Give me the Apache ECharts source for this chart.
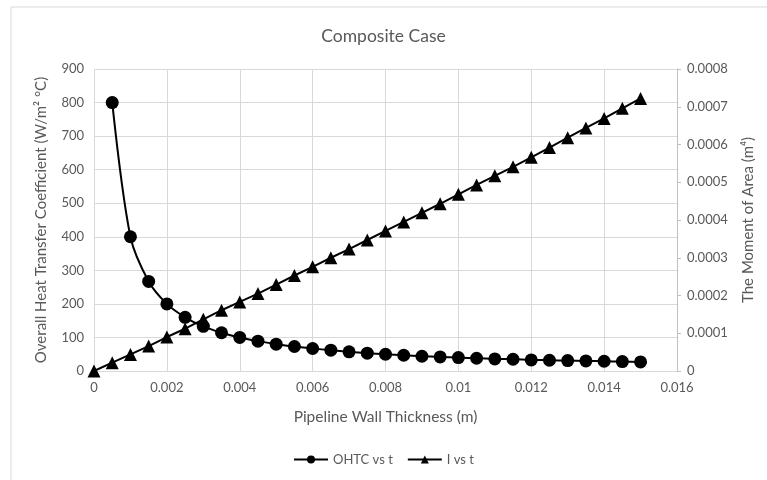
<!DOCTYPE html>
<html>
<head>
<meta charset="utf-8">
<script src="https://cdn.jsdelivr.net/npm/echarts@6/dist/echarts.min.js"></script>
<style>
  html, body { margin: 0; padding: 0; background: #fff; }
  #chart { width: 767px; height: 480px; }
</style>
</head>
<body>
<div id="chart"></div>
<script>
// Wall thickness t (m)
const thicknessOHTC = [0.0005, 0.001, 0.0015, 0.002, 0.0025, 0.003, 0.0035, 0.004, 0.0045, 0.005,
  0.0055, 0.006, 0.0065, 0.007, 0.0075, 0.008, 0.0085, 0.009, 0.0095, 0.01,
  0.0105, 0.011, 0.0115, 0.012, 0.0125, 0.013, 0.0135, 0.014, 0.0145, 0.015];
// Overall heat transfer coefficient (W/m² °C)
const ohtcValues = [800, 400, 267, 200, 160, 133, 114, 100, 89, 80,
  73, 67, 62, 57, 53, 50, 47, 44, 42, 40,
  38, 36, 35, 33, 32, 31, 30, 29, 28, 27];

const thicknessI = [0, 0.0005, 0.001, 0.0015, 0.002, 0.0025, 0.003, 0.0035, 0.004, 0.0045, 0.005,
  0.0055, 0.006, 0.0065, 0.007, 0.0075, 0.008, 0.0085, 0.009, 0.0095, 0.01,
  0.0105, 0.011, 0.0115, 0.012, 0.0125, 0.013, 0.0135, 0.014, 0.0145, 0.015];
// Moment of area (m⁴)
const momentValues = [0, 0.000022, 0.000044, 0.000066, 0.000090, 0.000112, 0.000137, 0.000161, 0.000183, 0.000205, 0.000229,
  0.000253, 0.000276, 0.000300, 0.000323, 0.000347, 0.000371, 0.000395, 0.000419, 0.000443, 0.000468,
  0.000493, 0.000517, 0.000541, 0.000566, 0.000592, 0.000618, 0.000644, 0.000669, 0.000696, 0.000722];

const seriesNames = ['OHTC vs t', 'I vs t'];

const FONT = 'Lato';
const TEXT = '#595959';
const GRID = '#d9d9d9';

const pair = (xs, ys) => xs.map((x, i) => [x, ys[i]]);

const chart = echarts.init(document.getElementById('chart'), null, { renderer: 'canvas' });
chart.setOption({
  backgroundColor: '#ffffff',
  animation: false,
  textStyle: { fontFamily: FONT },
  title: {
    text: 'Composite Case',
    left: 'center',
    top: 22,
    textStyle: { fontFamily: FONT, fontSize: 17.5, fontWeight: 'normal', color: TEXT }
  },
  graphic: [{
    type: 'rect',
    shape: { x: 11, y: 7, width: 800, height: 600 },
    style: { fill: 'none', stroke: '#d9d9d9', lineWidth: 1 },
    silent: true
  }],
  legend: {
    bottom: 9,
    left: 'center',
    itemWidth: 34,
    itemHeight: 10,
    itemGap: 14,
    textStyle: { fontFamily: FONT, fontSize: 13, color: TEXT },
    data: seriesNames
  },
  grid: { left: 94, right: 90, top: 69, bottom: 109 },
  xAxis: {
    type: 'value',
    min: 0, max: 0.016, interval: 0.002,
    name: 'Pipeline Wall Thickness (m)',
    nameLocation: 'middle',
    nameGap: 38,
    nameTextStyle: { fontFamily: FONT, fontSize: 15.5, color: TEXT },
    axisLine: { show: true, onZero: false, lineStyle: { color: GRID } },
    axisTick: { show: false },
    axisLabel: {
      fontFamily: FONT, fontSize: 13, color: TEXT, margin: 10,
      formatter: v => String(+v.toFixed(3))
    },
    splitLine: { show: true, lineStyle: { color: GRID, width: 1 } }
  },
  yAxis: [{
    type: 'value',
    min: 0, max: 900, interval: 100,
    name: 'Overall Heat Transfer Coefficient (W/m² °C)',
    nameLocation: 'middle',
    nameRotate: 90,
    nameGap: 45,
    nameTextStyle: { fontFamily: FONT, fontSize: 15, color: TEXT },
    axisLine: { show: false },
    axisTick: { show: false },
    axisLabel: { fontFamily: FONT, fontSize: 13, color: TEXT, margin: 10 },
    splitLine: { show: true, lineStyle: { color: GRID, width: 1 } }
  }, {
    type: 'value',
    position: 'right',
    min: 0, max: 0.0008, interval: 0.0001,
    name: 'The Moment of Area (m⁴)',
    nameLocation: 'middle',
    nameRotate: 90,
    nameGap: 64,
    nameTextStyle: { fontFamily: FONT, fontSize: 15, color: TEXT },
    axisLine: { show: true, lineStyle: { color: '#bfbfbf' } },
    axisTick: { show: true, inside: false, length: 4, lineStyle: { color: '#bfbfbf' } },
    axisLabel: {
      fontFamily: FONT, fontSize: 13, color: TEXT, margin: 10,
      formatter: v => v === 0 ? '0' : v.toFixed(4)
    },
    splitLine: { show: false }
  }],
  series: [{
    name: seriesNames[0],
    type: 'line',
    yAxisIndex: 0,
    smooth: 0.3,
    data: pair(thicknessOHTC, ohtcValues),
    symbol: 'circle',
    symbolSize: 13,
    itemStyle: { color: '#000' },
    lineStyle: { color: '#000', width: 2 },
    z: 3
  }, {
    name: seriesNames[1],
    type: 'line',
    yAxisIndex: 1,
    smooth: false,
    data: pair(thicknessI, momentValues),
    symbol: 'triangle',
    symbolSize: 13,
    itemStyle: { color: '#000' },
    lineStyle: { color: '#000', width: 2 },
    z: 4
  }]
});
</script>
</body>
</html>
